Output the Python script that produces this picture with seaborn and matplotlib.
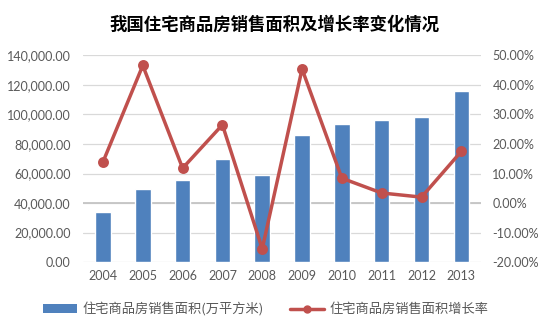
import numpy as np
import pandas as pd
import matplotlib
matplotlib.use("Agg")
import matplotlib.pyplot as plt
import seaborn as sns
from matplotlib.ticker import FuncFormatter
from matplotlib.patches import Patch
from matplotlib.lines import Line2D

years = ["2004", "2005", "2006", "2007", "2008", "2009", "2010", "2011", "2012", "2013"]
area = [33800, 49600, 55400, 70100, 59300, 86200, 93400, 96500, 98500, 115700]
growth = [13.9, 46.6, 11.8, 26.5, -15.5, 45.4, 8.4, 3.4, 2.0, 17.5]
title = "我国住宅商品房销售面积及增长率变化情况"
bar_label = "住宅商品房销售面积(万平方米)"
line_label = "住宅商品房销售面积增长率"

sns.set_theme(style="white")
plt.rcParams['font.family'] = ['Lato', 'Noto Sans CJK SC', 'DejaVu Sans']

bar_color = "#4f81bd"
line_color = "#c0504d"
txt_color = "#595959"
grid_color = "#d9d9d9"

fig = plt.figure(figsize=(5.5, 3.28), dpi=100)
ax = fig.add_axes([0.151, 0.201, 0.724, 0.630])

df = pd.DataFrame({"year": years, "area": area, "growth": growth})
sns.barplot(data=df, x="year", y="area", ax=ax, color=bar_color, width=0.39,
            saturation=1, zorder=3)
ax.set_ylim(0, 140000)
ax.set_yticks(np.arange(0, 140001, 20000))
ax.yaxis.set_major_formatter(FuncFormatter(lambda v, p: f"{v:,.2f}"))
ax.grid(axis="y", color=grid_color, linewidth=0.9, zorder=0)
ax.set_axisbelow(True)
ax.set_xlabel("")
ax.set_ylabel("")
for s in ax.spines.values():
    s.set_visible(False)
ax.tick_params(axis="both", length=0, labelsize=9, colors=txt_color, pad=6)
ax.tick_params(axis="y", pad=9)

ax2 = ax.twinx()
sns.pointplot(data=df, x="year", y="growth", ax=ax2, color=line_color,
              markers="o", linewidth=2.5, markersize=6)
ax2.set_ylim(-20, 50)
ax2.set_yticks(np.arange(-20, 50.1, 10))
ax2.yaxis.set_major_formatter(FuncFormatter(lambda v, p: f"{v:.2f}%"))
ax2.set_ylabel("")
ax2.set_xlabel("")
for s in ax2.spines.values():
    s.set_visible(False)
ax2.tick_params(axis="y", length=0, labelsize=9, colors=txt_color, pad=8)
ax.set_zorder(ax2.get_zorder() - 1)
ax2.patch.set_visible(False)
ax.set_xlim(-0.5, len(years) - 0.5)
# secondary-axis zero line, drawn behind the bars
ax.axhline(40000, color="#c4c4c4", linewidth=1.3, zorder=1)

fig.text(0.5, 0.924, title, ha="center", va="center", fontsize=12.5,
         fontweight="bold", family=["Noto Sans CJK SC", "DejaVu Sans"], color="#000000")

handles = [Patch(facecolor=bar_color, edgecolor="none", label=bar_label),
           Line2D([0], [0], color=line_color, lw=2.5, marker="o", markersize=5, label=line_label)]
fig.legend(handles=handles, loc="center", bbox_to_anchor=(0.483, 0.057), ncol=2, frameon=False,
           prop={"family": ["Noto Sans CJK SC", "DejaVu Sans"], "size": 9.5},
           labelcolor=txt_color, handlelength=2.6, handleheight=0.6, columnspacing=2.0,
           handletextpad=0.4)

fig.savefig("out.png", dpi=100)
